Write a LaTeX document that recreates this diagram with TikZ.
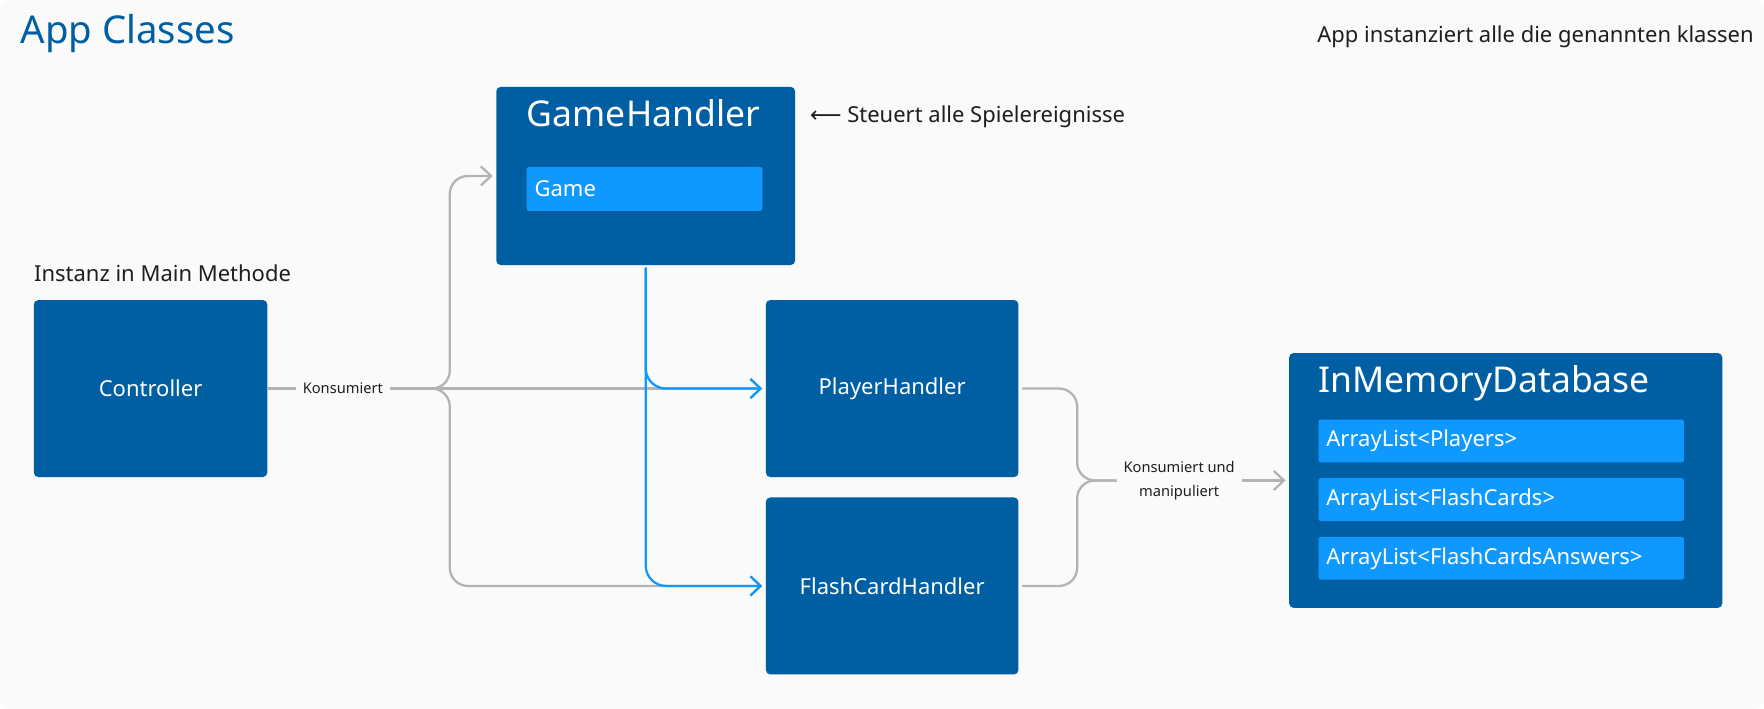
\documentclass[tikz,border=0pt]{standalone}
\usepackage{fontspec}
\setmainfont{Noto Sans}
\newfontfamily\arrowfont{DejaVu Sans}
\usetikzlibrary{positioning,arrows.meta,calc}

\definecolor{classblue}{HTML}{005EA3}
\definecolor{fieldblue}{HTML}{0F99FF}
\definecolor{linegray}{HTML}{B3B3B3}
\definecolor{paper}{HTML}{FAFAFA}
\definecolor{ink}{HTML}{1E1E1E}

\begin{document}
\begin{tikzpicture}[x=1pt,y=-1pt,
	class node/.style={rectangle,rounded corners=4pt,fill=classblue,text=white,inner sep=0pt,font=\fontsize{19.5}{23}\selectfont},
	field node/.style={rectangle,rounded corners=2pt,fill=fieldblue,text=white,inner xsep=7pt,inner ysep=0pt,minimum height=38pt,align=left,font=\fontsize{19.5}{23}\selectfont},
	class title/.style={anchor=base west,text=white,inner sep=0pt,font=\fontsize{31.5}{36}\selectfont},
	note text/.style={text=ink,inner sep=0pt,font=\fontsize{19.5}{23}\selectfont},
	small text/.style={text=ink,inner sep=6pt,font=\fontsize{13}{21}\selectfont},
	flow line/.style={draw=linegray,line width=2pt,rounded corners=16pt,arrows={-Straight Barb[length=9pt,width=17pt]}},
	game line/.style={draw=fieldblue,line width=2pt,rounded corners=18pt,arrows={-Straight Barb[length=9pt,width=17pt]}}
]

	\useasboundingbox (0,0) rectangle (1564,628.6);
	\fill[paper,rounded corners=8pt] (0,0) rectangle (1564,628.6);

	% headings and notes
	\node[anchor=base west,inner sep=0pt,text=classblue,font=\fontsize{34}{38}\selectfont] (title) at (18,39) {App Classes};
	\node[note text,anchor=base east] (appinfo) at (1555,38) {App instanziert alle die genannten klassen};
	\node[note text,anchor=base west] (maininfo) at (30,250) {Instanz in Main Methode};
	\node[note text,anchor=base west] (gameinfo) at (718,109) {{\arrowfont ⟵} Steuert alle Spielereignisse};

	% classes
	\node[class node,minimum width=207pt,minimum height=157pt] (controller) at (133.5,344.5) {Controller};
	\node[class node,minimum width=265pt,minimum height=158pt] (game) at (572.5,156) {};
	\node[class node,minimum width=224pt,minimum height=157pt] (player) at (791,344.5) {PlayerHandler};
	\node[class node,minimum width=224pt,minimum height=157pt] (flash) at (791,519.5) {FlashCardHandler};
	\node[class node,minimum width=384pt,minimum height=226pt] (db) at (1335,426) {};

	\node[field node,text width=195pt,minimum height=39pt] (gamefield) at (571.5,167.5) {Game};
	\node[class title] (gametitle) at (467,112.5) {GameHandler};

	\node[class title] (dbtitle) at (1169,348) {InMemoryDatabase};
	\foreach \f [count=\i] in {Players,FlashCards,FlashCardsAnswers} {
		\node[field node,text width=310pt] (dbfield\i) at (1331,{339+52*\i}) {ArrayList<\f>};
	}

	% controller uses the handlers
	\coordinate (fork) at (381,344.5);
	\node[small text] (consume) at (304,344.5) {Konsumiert};
	\draw[flow line,-] (controller.east) -- (consume.west);
	\draw[flow line,-] (consume.east) -- (fork);
	\draw[flow line,shorten >=3pt] (fork) -| ($(game.west)+(-41,0)$) -- (game.west);
	\draw[flow line,shorten >=3pt] (fork) -- (player.west);
	\draw[flow line,shorten >=3pt] (fork) -| ($(flash.west)+(-280,0)$) -- (flash.west);

	% game handler drives the others
	\draw[game line,shorten <=2pt,shorten >=3pt] (game.south) |- (player.west);
	\draw[game line,shorten <=2pt,shorten >=3pt] (game.south) |- (flash.west);

	% handlers use the database
	\coordinate (merge) at (990,426);
	\draw[flow line,-,shorten <=3pt] (player.east) -| ($(merge)+(-35,0)$) -- (merge);
	\draw[flow line,-,shorten <=3pt] (flash.east) -| ($(merge)+(-35,0)$) -- (merge);
	\node[small text,align=center,anchor=west] (change) at (merge) {Konsumiert und\\manipuliert};
	\draw[flow line,shorten >=3pt] (change.east) -- (db.west);
\end{tikzpicture}
\end{document}
